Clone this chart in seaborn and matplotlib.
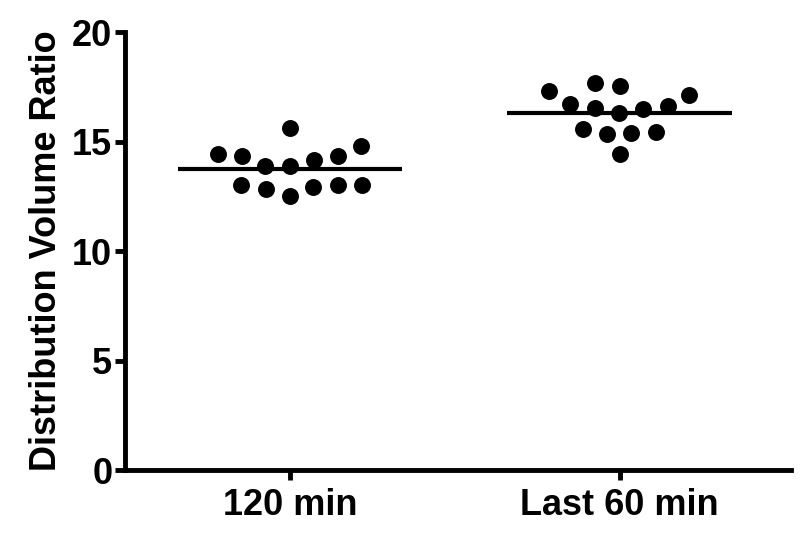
import numpy as np
import pandas as pd
import matplotlib
matplotlib.use("Agg")
import matplotlib.pyplot as plt
import seaborn as sns

categories = ["120 min", "Last 60 min"]
vals_120 = [14.42, 14.34, 13.90, 12.91, 13.01, 15.63, 13.91, 12.53,
            14.16, 12.82, 14.34, 13.01, 14.81, 13.01]
vals_last60 = [16.74, 16.51, 17.53, 16.32, 15.40, 17.15, 15.60, 14.42,
               17.31, 16.54, 15.34, 17.70, 16.63, 15.42]
y_label = "Distribution Volume Ratio"
y_ticks = [0, 5, 10, 15, 20]

df = pd.DataFrame({
    "group": [categories[0]] * len(vals_120) + [categories[1]] * len(vals_last60),
    "value": vals_120 + vals_last60,
})

sns.set_theme(style="white")
plt.rcParams["font.family"] = ["Liberation Sans", "DejaVu Sans"]
plt.rcParams["font.weight"] = "bold"
plt.rcParams["text.color"] = "black"
plt.rcParams["axes.labelcolor"] = "black"
plt.rcParams["xtick.color"] = "black"
plt.rcParams["ytick.color"] = "black"

fig = plt.figure(figsize=(8, 5.36), dpi=100)
ax = fig.add_axes([0.156, 0.123, 0.833, 0.817])

# lay out with a wider spacing, then shrink the dots
sns.swarmplot(data=df, x="group", y="value", order=categories, color="black",
              size=17, ax=ax, linewidth=0)

ax.set_xlim(-0.5, 1.52)
ax.set_ylim(0, 20)
fig.canvas.draw()
for coll in ax.collections:
    if "draw" in coll.__dict__:
        del coll.draw
    coll.set_sizes([12.2 ** 2])

means = df.groupby("group")["value"].mean().reindex(categories).values
for i, m in enumerate(means):
    ax.hlines(m, i - 0.34, i + 0.34, color="black", lw=3, zorder=3)

ax.set_yticks(y_ticks)
ax.set_xlabel("")
ax.set_ylabel(y_label, fontsize=26, fontweight="bold", labelpad=6, color="black")
for s in ["top", "right"]:
    ax.spines[s].set_visible(False)
for s in ["left", "bottom"]:
    ax.spines[s].set_linewidth(3.5)
    ax.spines[s].set_color("black")
ax.tick_params(axis="both", direction="out", length=7, width=3.5, colors="black",
               labelsize=26, pad=2, left=True, bottom=True)
for lab in ax.get_xticklabels() + ax.get_yticklabels():
    lab.set_fontweight("bold")
ax.tick_params(axis="x", pad=6)

fig.savefig("out.png", dpi=100, facecolor="white")
